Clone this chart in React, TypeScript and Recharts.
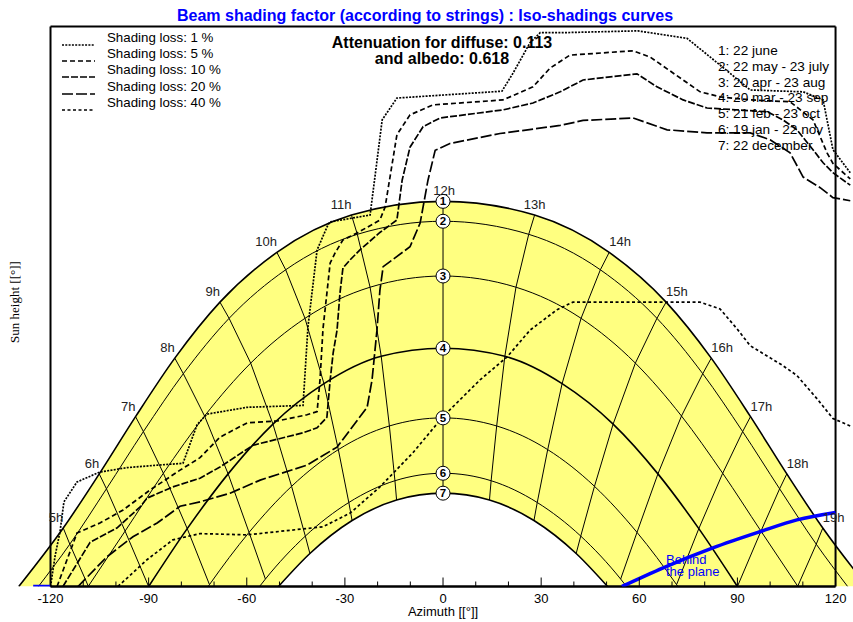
import React from 'react';
import {
  Area,
  ComposedChart,
  Legend,
  Line,
  ReferenceLine,
  Scatter,
  XAxis,
  YAxis,
} from 'recharts';

// sun path, one point per solar hour (azimuth °, sun height °), null = below horizon
const hours = [5, 6, 7, 8, 9, 10, 11, 12, 13, 14, 15, 16, 17, 18, 19];

type Pt = [number, number] | null;

const june22: Pt[] = [
  [-116.1, 9.4], [-105.1, 18.1], [-94.0, 27.3], [-82.0, 36.7], [-68.2, 45.7], [-50.8, 53.7], [-28.0, 59.7],
  [0, 61.9],
  [28.0, 59.7], [50.8, 53.7], [68.2, 45.7], [82.0, 36.7], [94.0, 27.3], [105.1, 18.1], [116.1, 9.4],
];
const may22: Pt[] = [
  [-114.1, 6.8], [-102.9, 15.7], [-91.6, 24.9], [-79.4, 34.2], [-65.4, 43.1], [-48.1, 50.9], [-26.2, 56.6],
  [0, 58.7],
  [26.2, 56.6], [48.1, 50.9], [65.4, 43.1], [79.4, 34.2], [91.6, 24.9], [102.9, 15.7], [114.1, 6.8],
];
const apr20: Pt[] = [
  [-108.4, 0], [-97.2, 8.9], [-85.5, 18.2], [-72.9, 27.4], [-58.8, 35.9], [-42.2, 43.1], [-22.3, 48.1],
  [0, 49.9],
  [22.3, 48.1], [42.2, 43.1], [58.8, 35.9], [72.9, 27.4], [85.5, 18.2], [97.2, 8.9], [108.4, 0],
];
const mar20: Pt[] = [
  null, [-90, 0], [-78.2, 9.3], [-65.7, 18.1], [-52.0, 26.1], [-36.4, 32.6], [-18.9, 37.0],
  [0, 38.3],
  [18.9, 37.0], [36.4, 32.6], [52.0, 26.1], [65.7, 18.1], [78.2, 9.3], [90, 0], null,
];
const feb21: Pt[] = [
  null, null, [-71.4, 0.3], [-59.3, 8.7], [-46.3, 16.1], [-32.0, 22.0], [-16.4, 25.8],
  [0, 27.1],
  [16.4, 25.8], [32.0, 22.0], [46.3, 16.1], [59.3, 8.7], [71.4, 0.3], null, null,
];
const jan19: Pt[] = [
  null, null, null, [-54.3, 1.2], [-42.1, 8.1], [-28.8, 13.5], [-14.7, 17.0],
  [0, 18.2],
  [14.7, 17.0], [28.8, 13.5], [42.1, 8.1], [54.3, 1.2], null, null, null,
];
const dec22: Pt[] = [
  null, null, null, null, [-40.7, 5.3], [-27.8, 10.6], [-14.2, 13.9],
  [0, 15.0],
  [14.2, 13.9], [27.8, 10.6], [40.7, 5.3], null, null, null, null,
];
const sunriseAz = [129.7, 123.7, 108.5, 90, 71.8, 56.1, 50.3];
const dayNames = [
  '1: 22 june',
  '2: 22 may - 23 july',
  '3: 20 apr - 23 aug',
  '4: 20 mar - 23 sep',
  '5: 21 feb - 23 oct',
  '6: 19 jan - 22 nov',
  '7: 22 december',
];

// iso-shading curves (azimuth °, sun height °)
const loss1 = [
  [-120.0, 0], [-118.6, 4.9], [-117.1, 8.8], [-115.9, 13.6], [-111.9, 16.8], [-104.9, 18.4], [-96.6, 19.1],
  [-87.4, 19.5], [-79.5, 19.8], [-75.2, 26.0], [-72.2, 27.7], [-59.9, 28.8], [-42.8, 29.1], [-41.3, 41.7],
  [-38.5, 54.1], [-35.2, 58.1], [-34.5, 58.6], [-22.3, 59.7], [-18.6, 75.0], [-14.1, 78.5], [18.0, 79.6],
  [21.4, 82.5], [26.6, 87.4], [29.7, 89.0], [35.8, 89.0], [59.6, 89.3], [74.6, 88.1], [86.8, 82.9],
  [93.9, 79.8], [110.1, 79.5], [116.2, 78.2], [119.2, 70.2], [124.5, 66.5],
];
const loss5 = [
  [-118.0, 0], [-111.9, 8.6], [-104.9, 10.2], [-97.8, 12.3], [-89.6, 15.5], [-80.4, 18.7], [-74.3, 20.7],
  [-68.2, 24.0], [-59.9, 26.3], [-50.7, 26.6], [-41.6, 27.6], [-38.5, 28.1], [-37.6, 33.3], [-36.7, 41.4],
  [-34.5, 52.0], [-33.0, 53.6], [-30.6, 55.7], [-26.3, 56.8], [-19.3, 58.9], [-17.7, 61.0], [-14.1, 72.6],
  [-10.1, 75.8], [-3.1, 77.4], [18.3, 78.2], [27.5, 80.3], [32.7, 83.3], [38.8, 85.4], [58.1, 86.1],
  [63.3, 85.1], [73.4, 81.4], [78.6, 79.5], [84.7, 78.7], [93.9, 78.2], [106.1, 77.9], [113.1, 75.0],
  [117.4, 69.7], [119.2, 68.0], [124.5, 65.5],
];
const loss10 = [
  [-116.2, 0], [-107.9, 7.1], [-99.7, 9.4], [-92.6, 12.8], [-90.5, 14.2], [-82.6, 16.0], [-74.3, 17.4],
  [-68.2, 19.2], [-58.1, 22.7], [-42.8, 24.7], [-38.5, 25.5], [-35.5, 27.2], [-34.5, 33.2], [-33.6, 37.5],
  [-32.4, 41.2], [-31.5, 47.2], [-30.6, 51.2], [-28.4, 52.5], [-25.4, 54.1], [-19.3, 56.9], [-14.1, 58.9],
  [-12.5, 65.3], [-10.1, 70.6], [-6.1, 73.9], [-0.9, 75.3], [18.3, 76.6], [27.5, 77.7], [35.8, 79.5],
  [42.8, 81.4], [59.3, 82.4], [65.4, 80.3], [73.4, 78.2], [80.7, 76.9], [99.1, 76.3], [103.9, 75.0],
  [108.2, 73.4], [113.1, 70.2], [116.2, 68.1], [119.2, 66.5], [124.5, 64.5],
];
const loss20 = [
  [-111.6, 0], [-102.7, 4.8], [-94.8, 8.0], [-87.4, 10.2], [-80.4, 12.9], [-74.3, 13.6], [-65.1, 15.0],
  [-55.9, 17.1], [-41.6, 19.5], [-32.4, 22.4], [-23.2, 28.8], [-21.7, 33.2], [-20.2, 41.2], [-19.3, 47.6],
  [-18.3, 51.4], [-10.1, 54.6], [-7.0, 58.4], [-4.6, 65.3], [-2.4, 70.1], [2.1, 71.2], [17.4, 72.8],
  [35.8, 74.1], [42.8, 74.9], [58.1, 75.3], [68.5, 73.4], [80.7, 72.9], [93.9, 72.9], [100.0, 71.8],
  [106.1, 69.7], [110.1, 65.8], [115.3, 64.1], [119.2, 62.5], [124.5, 62.0],
];
const loss40 = [
  [-99.4, 0], [-90.5, 4.3], [-82.6, 7.5], [-74.3, 8.5], [-59.9, 8.3], [-36.7, 9.6], [-28.4, 11.8],
  [-19.3, 16.0], [-9.2, 21.5], [0, 27.3], [11.3, 33.2], [19.6, 36.9], [26.6, 41.2], [34.9, 44.5],
  [39.7, 45.7], [67.3, 45.7], [78.6, 45.7], [84.7, 44.6], [89.9, 41.4], [93.9, 38.7], [103.9, 35.5],
  [108.2, 33.9], [114.3, 30.2], [119.2, 27.0], [124.5, 25.8],
];
const lossLabels = [
  'Shading loss: 1 %',
  'Shading loss: 5 %',
  'Shading loss: 10 %',
  'Shading loss: 20 %',
  'Shading loss: 40 %',
];
const lossDash = ['2 1.3', '5 3', '7 2', '11 3', '3 2.5'];

// "behind the plane" limit
const behindEast = [[-125.3, 0], [-120.0, 0]];
const behindWest = [[54.7, 0], [67.3, 3.0], [82.5, 6.2], [96.9, 8.8], [108.2, 10.7], [120.0, 11.9]];

const azTicks = [-120, -110, -100, -90, -80, -70, -60, -50, -40, -30, -20, -10, 0, 10, 20, 30, 40, 50, 60, 70, 80, 90, 100, 110, 120];
const hTicks = [0, 5, 10, 15, 20, 25, 30, 35, 40, 45, 50, 55, 60, 65, 70, 75, 80, 85, 90];

const FONT = '"Liberation Sans", Arial, sans-serif';
const YELLOW = '#ffff80';
const BLUE = '#0000ff';

const CHART_W = 880;
const CHART_H = 622;
const AZ_MIN = -130;
const AZ_MAX = 130;
const PX = 3.271;
const PLOT_LEFT = 17.8;
const PLOT_W = (AZ_MAX - AZ_MIN) * PX;
const PLOT_TOP = 26.5;
const PLOT_BOTTOM = 586.5;
const XL = PLOT_LEFT + (-120 - AZ_MIN) * PX;
const XR = PLOT_LEFT + (120 - AZ_MIN) * PX;

const toRows = (pts: number[][]) => pts.map(([az, el]) => ({ az, el }));
const days = [june22, may22, apr20, mar20, feb21, jan19, dec22];

const dayCurve = (pts: Pt[], rise: number) => [
  { az: -rise, el: 0 },
  ...toRows(pts.filter((p): p is [number, number] => !!p && p[1] > 0)),
  { az: rise, el: 0 },
];
const hourLine = (i: number) =>
  toRows(days.map((d) => d[i]).filter((p): p is [number, number] => !!p));

const hourMarks = hours.map((h, i) => ({ az: june22[i]![0], el: june22[i]![1], h }));
const dayMarks = days.map((d, i) => ({ az: d[7]![0], el: d[7]![1], n: i + 1 }));

const BottomTick = ({ x, payload }: any) => {
  const v = payload.value as number;
  const major = v % 30 === 0;
  return (
    <g>
      <line x1={x} x2={x} y1={PLOT_BOTTOM} y2={PLOT_BOTTOM - (major ? 9 : 5)} stroke="#000" />
      {major && (
        <text x={x} y={PLOT_BOTTOM + 16.5} textAnchor="middle" fontSize={13} fontFamily={FONT} fill="#000">
          {v}
        </text>
      )}
    </g>
  );
};

const TopTick = ({ x, payload }: any) => {
  const major = payload.value % 30 === 0;
  return <line x1={x} x2={x} y1={PLOT_TOP} y2={PLOT_TOP + (major ? 9 : 5)} stroke="#000" />;
};

const LeftTick = ({ y, payload }: any) => {
  const v = payload.value as number;
  const major = v % 15 === 0;
  return (
    <g>
      <line x1={XL} x2={XL + (major ? 8 : 4)} y1={y} y2={y} stroke="#000" />
      {major && (
        <text x={XL - 4} y={y + 4.5} textAnchor="end" fontSize={13} fontFamily={FONT} fill="#000">
          {v}
        </text>
      )}
    </g>
  );
};

const RightTick = ({ y, payload }: any) => {
  const major = payload.value % 15 === 0;
  return <line x1={XR} x2={XR - (major ? 8 : 4)} y1={y} y2={y} stroke="#000" />;
};

const HourLabel = ({ cx, cy, payload }: any) => {
  const h = payload.h as number;
  const anchor = h === 12 || h === 13 ? 'middle' : h < 12 ? 'end' : 'start';
  return (
    <text x={cx + (h === 12 ? 1 : 0)} y={cy - 6} textAnchor={anchor} fontSize={13} fontFamily={FONT} fill="#222">
      {h}h
    </text>
  );
};

const DayMark = ({ cx, cy, payload }: any) => (
  <g>
    <circle cx={cx} cy={cy} r={7} fill="#fff" stroke="#000" strokeWidth={1} />
    <text x={cx} y={cy + 4} textAnchor="middle" fontSize={11.5} fontWeight="bold" fontFamily={FONT} fill="#000">
      {payload.n}
    </text>
  </g>
);

const LossLegend = () => (
  <div style={{ fontFamily: FONT, fontSize: '13px', color: '#000' }}>
    {lossLabels.map((t, i) => (
      <div key={t} style={{ position: 'relative', height: 16.1 }}>
        <svg width={34} height={24} style={{ position: 'absolute', left: 0, top: 0, overflow: 'visible' }}>
          <line x1={0} x2={33} y1={15} y2={15} stroke="#000" strokeWidth={1.7} strokeDasharray={lossDash[i]} />
        </svg>
        <span
          style={{
            position: 'absolute',
            left: 45,
            top: 0,
            fontSize: '13.3px',
            fontFamily: FONT,
            lineHeight: '16px',
            whiteSpace: 'nowrap',
          }}
        >
          {t}
        </span>
      </div>
    ))}
  </div>
);

const lossSeries = [loss1, loss5, loss10, loss20, loss40];

export default function App() {
  return (
    <div
      style={{
        position: 'absolute',
        left: 0,
        top: 0,
        width: 853,
        height: 622,
        overflow: 'hidden',
        background: '#fff',
        fontFamily: FONT,
      }}
    >
      <ComposedChart
        width={CHART_W}
        height={CHART_H}
        margin={{ top: PLOT_TOP, right: CHART_W - PLOT_LEFT - PLOT_W, bottom: 0, left: PLOT_LEFT }}
      >
        <XAxis
          dataKey="az"
          type="number"
          domain={[AZ_MIN, AZ_MAX]}
          ticks={azTicks}
          interval={0}
          allowDataOverflow
          height={CHART_H - PLOT_BOTTOM}
          axisLine={false}
          tickLine={false}
          tick={(p: any) => <BottomTick {...p} />}
          label={{ value: 'Azimuth [[°]]', position: 'insideBottom', offset: 6, fontSize: 13, fill: '#000', fontFamily: FONT }}
        />
        <XAxis
          xAxisId="top"
          orientation="top"
          dataKey="az"
          type="number"
          domain={[AZ_MIN, AZ_MAX]}
          ticks={azTicks}
          interval={0}
          height={0}
          axisLine={false}
          tickLine={false}
          tick={(p: any) => <TopTick {...p} />}
        />
        <YAxis
          dataKey="el"
          type="number"
          domain={[0, 90]}
          ticks={hTicks}
          interval={0}
          allowDataOverflow
          width={0}
          axisLine={false}
          tickLine={false}
          tick={(p: any) => <LeftTick {...p} />}
        />
        <YAxis
          yAxisId="right"
          orientation="right"
          dataKey="el"
          type="number"
          domain={[0, 90]}
          ticks={hTicks}
          interval={0}
          width={0}
          axisLine={false}
          tickLine={false}
          tick={(p: any) => <RightTick {...p} />}
        />

        <Area
          data={dayCurve(june22, sunriseAz[0])}
          dataKey="el"
          type="monotone"
          fill={YELLOW}
          fillOpacity={1}
          stroke="none"
          isAnimationActive={false}
        />
        <Area
          data={dayCurve(dec22, sunriseAz[6])}
          dataKey="el"
          type="monotone"
          fill="#fff"
          fillOpacity={1}
          stroke="none"
          isAnimationActive={false}
        />

        {hours.map((h, i) => (
          <Line
            key={`h${h}`}
            data={hourLine(i)}
            dataKey="el"
            type="linear"
            stroke="#000"
            strokeWidth={1}
            dot={false}
            activeDot={false}
            isAnimationActive={false}
          />
        ))}
        {days.map((d, i) => (
          <Line
            key={`d${i}`}
            data={dayCurve(d, sunriseAz[i])}
            dataKey="el"
            type="monotone"
            stroke="#000"
            strokeWidth={i === 0 || i === 3 || i === 6 ? 1.6 : 1}
            dot={false}
            activeDot={false}
            isAnimationActive={false}
          />
        ))}

        <ReferenceLine x={-120} stroke="#000" strokeWidth={2} />
        <ReferenceLine x={120} stroke="#000" strokeWidth={2} />
        <ReferenceLine segment={[{ x: -120, y: 90 }, { x: 120, y: 90 }]} stroke="#000" strokeWidth={2} />
        <ReferenceLine segment={[{ x: -120, y: 0 }, { x: 120, y: 0 }]} stroke="#000" strokeWidth={2.5} />

        {lossSeries.map((s, i) => (
          <Line
            key={lossLabels[i]}
            data={toRows(s)}
            dataKey="el"
            type="linear"
            stroke="#000"
            strokeWidth={1.7}
            strokeDasharray={lossDash[i]}
            dot={false}
            activeDot={false}
            isAnimationActive={false}
          />
        ))}

        <Line
          data={toRows(behindEast)}
          dataKey="el"
          type="linear"
          stroke={BLUE}
          strokeWidth={3.5}
          dot={false}
          activeDot={false}
          isAnimationActive={false}
        />
        <Line
          data={toRows(behindWest)}
          dataKey="el"
          type="monotone"
          stroke={BLUE}
          strokeWidth={3.5}
          dot={false}
          activeDot={false}
          isAnimationActive={false}
        />

        <Scatter data={hourMarks} dataKey="el" shape={(p: any) => <HourLabel {...p} />} isAnimationActive={false} />
        <Scatter data={dayMarks} dataKey="el" shape={(p: any) => <DayMark {...p} />} isAnimationActive={false} />

        <Legend
          layout="horizontal"
          verticalAlign="middle"
          align="center"
          wrapperStyle={{ position: 'absolute', left: 62, top: 30.3, width: 200, height: 84, fontSize: '13.3px' }}
          content={() => <LossLegend />}
        />
      </ComposedChart>

      <div
        style={{
          position: 'absolute',
          left: 0,
          top: 7,
          width: 850,
          textAlign: 'center',
          color: BLUE,
          fontWeight: 'bold',
          fontSize: 16,
          lineHeight: '17px',
          whiteSpace: 'nowrap',
        }}
      >
        Beam shading factor (according to strings) : Iso-shadings curves
      </div>
      <div
        style={{
          position: 'absolute',
          left: 292,
          top: 34.5,
          width: 300,
          textAlign: 'center',
          fontWeight: 'bold',
          fontSize: 16,
          lineHeight: '16.3px',
          color: '#000',
        }}
      >
        <div>Attenuation for diffuse: 0.113</div>
        <div>and albedo: 0.618</div>
      </div>
      <div
        style={{
          position: 'absolute',
          left: 718,
          top: 43,
          fontSize: '13.6px',
          lineHeight: '15.8px',
          color: '#000',
          whiteSpace: 'nowrap',
        }}
      >
        {dayNames.map((n) => (
          <div key={n}>{n}</div>
        ))}
      </div>
      <div
        style={{
          position: 'absolute',
          left: 666,
          top: 553.5,
          fontSize: 13,
          lineHeight: '12.7px',
          color: BLUE,
          whiteSpace: 'nowrap',
        }}
      >
        <div>Behind</div>
        <div>the plane</div>
      </div>
      <div
        style={{
          position: 'absolute',
          left: -85,
          top: 294,
          width: 200,
          textAlign: 'center',
          fontFamily: '"Liberation Serif", "Times New Roman", serif',
          fontSize: 13,
          lineHeight: '16px',
          color: '#000',
          transform: 'rotate(-90deg)',
          whiteSpace: 'nowrap',
        }}
      >
        Sun height [[°]]
      </div>
    </div>
  );
}
